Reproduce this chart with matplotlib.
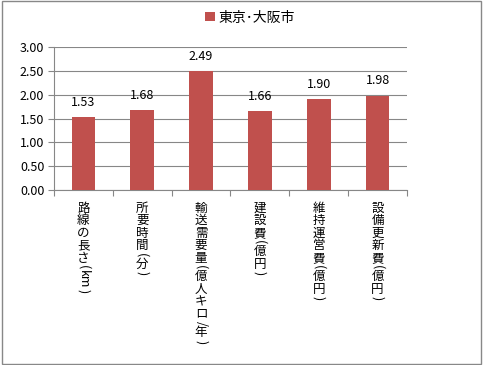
import matplotlib.pyplot as plt
from matplotlib.patches import Rectangle

plt.rcParams['font.family'] = ['Noto Sans CJK JP', 'DejaVu Sans']

# data
categories = ['路線の長さ(km)', '所要時間(分)', '輸送需要量(億人キロ/年)',
              '建設費(億円)', '維持運営費(億円)', '設備更新費(億円)']
values = [1.53, 1.68, 2.49, 1.66, 1.90, 1.98]
series_name = '東京･大阪市'
yticks = [0.0, 0.5, 1.0, 1.5, 2.0, 2.5, 3.0]

bar_color = '#C0504D'
grid_color = '#878787'


def tokens(label):
    # split into single CJK chars, keep runs of ascii letters together
    out = []
    buf = ''
    for ch in label:
        if ch.isascii() and ch.isalnum():
            buf += ch
            continue
        if buf:
            out.append(buf)
            buf = ''
        out.append(ch)
    if buf:
        out.append(buf)
    return out


def vertical_label(ax, x, label, size=9, start=12):
    y = start
    for tok in tokens(label):
        rotated = tok.isascii()
        if rotated:
            h = 9 * len(tok) if tok.isalnum() else 6
        else:
            h = 12.5
        ax.annotate(tok, (x, 0), xycoords=('data', 'axes fraction'),
                    xytext=(0, -(y + h / 2)), textcoords='offset pixels',
                    ha='center', va='center', fontsize=size,
                    rotation=270 if rotated else 0, annotation_clip=False)
        y += h


fig = plt.figure(figsize=(4.83, 3.65), dpi=100)
ax = fig.add_axes([54 / 483, 1 - 190 / 365, 353 / 483, 143 / 365])

x = range(len(categories))
bars = ax.bar(x, values, width=0.4, color=bar_color, label=series_name, zorder=3)
for b, v in zip(bars, values):
    ax.annotate(f'{v:.2f}', (b.get_x() + b.get_width() / 2, v),
                xytext=(0, 6), textcoords='offset points',
                ha='center', va='bottom', fontsize=9)

ax.set_xlim(-0.5, len(categories) - 0.5)
ax.set_ylim(0, 3.0)
ax.set_yticks(yticks)
ax.set_yticklabels([f'{t:.2f}' for t in yticks], fontsize=9)
ax.set_xticks([i - 0.5 for i in range(len(categories) + 1)])
ax.set_xticklabels([])
ax.tick_params(axis='x', length=4, color=grid_color)
ax.tick_params(axis='y', length=4, color=grid_color, pad=3)
ax.yaxis.grid(True, color=grid_color, linewidth=0.8, zorder=0)
for side in ['top', 'right']:
    ax.spines[side].set_visible(False)
for side in ['left', 'bottom']:
    ax.spines[side].set_color(grid_color)

for i, lab in enumerate(categories):
    vertical_label(ax, i, lab)

ax.legend(loc='lower center', bbox_to_anchor=(0.555, 1.07), frameon=False,
          fontsize=10, handlelength=0.7, handleheight=0.7, handletextpad=0.2)

fig.patches.append(Rectangle((0.004, 0.004), 0.992, 0.992, transform=fig.transFigure,
                             fill=False, edgecolor='#888888', linewidth=1))

fig.savefig('out.png', dpi=100)
